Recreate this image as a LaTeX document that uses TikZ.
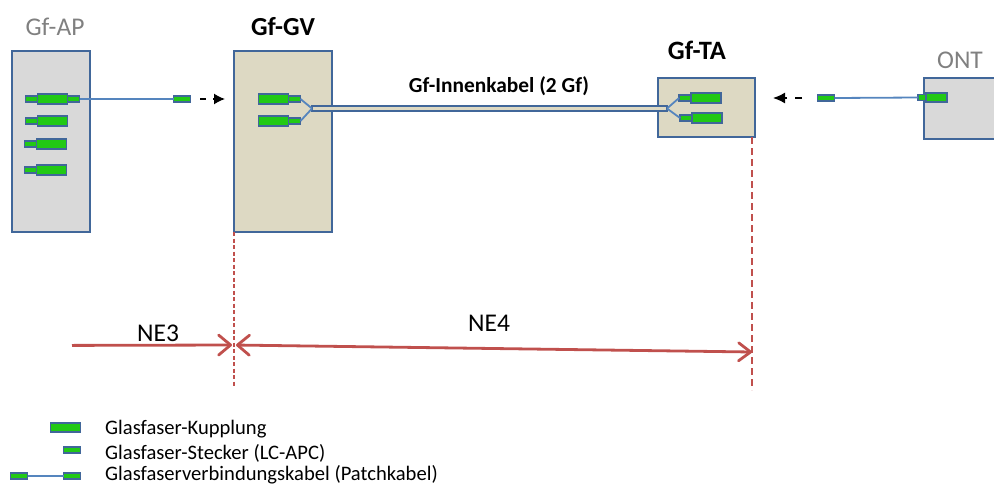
\documentclass[tikz,border=0pt]{standalone}
\usepackage{fontspec}
\setmainfont{Carlito}
\usepackage{xcolor}
\usetikzlibrary{arrows.meta,positioning}
\definecolor{boxblue}{HTML}{41679A}
\definecolor{fiberblue}{HTML}{5585BE}
\definecolor{boxgrey}{HTML}{D9D9D9}
\definecolor{boxbeige}{HTML}{DDD9C3}
\definecolor{fibergreen}{HTML}{22C915}
\definecolor{nered}{HTML}{C0504D}
\tikzset{
  device/.style={draw=boxblue, line width=1.8pt, inner sep=0pt, outer sep=0pt, anchor=north west},
  kupplung/.style={draw=boxblue, fill=fibergreen, line width=1.7pt, inner sep=0pt, outer sep=0pt,
    minimum width=30pt, minimum height=9.5pt},
  stecker/.style={draw=boxblue, fill=fibergreen, line width=1.3pt, inner sep=0pt, outer sep=0pt,
    minimum width=17pt, minimum height=6pt},
  faser/.style={fiberblue, line width=1.8pt},
  nepfeil/.style={nered, line width=2.8pt},
  greylabel/.style={text=black!50, font=\fontsize{25.5}{28}\selectfont},
  boldlabel/.style={font=\fontsize{26}{28}\selectfont\bfseries},
  legendtext/.style={anchor=west, inner sep=0pt, font=\fontsize{20.6}{23}\selectfont}
}
\begin{document}
\begin{tikzpicture}[x=1pt, y=-1pt]
  \useasboundingbox (0,0) rectangle (994,485);
  \clip (0,0) rectangle (994,485);

  % Devices
  \node[device, fill=boxgrey, minimum width=78pt, minimum height=181pt] (ap) at (12,51) {};
  \node[device, fill=boxbeige, minimum width=98pt, minimum height=181pt] (gv) at (234,51) {};
  \node[device, fill=boxbeige, minimum width=97pt, minimum height=59pt] (ta) at (658,78) {};
  \node[device, fill=boxgrey, minimum width=90pt, minimum height=61pt] (ont) at (924,78) {};

  % Labels
  \node[greylabel] (aplabel) at (55,27) {Gf-AP};
  \node[boldlabel] (gvlabel) at (283,27) {Gf-GV};
  \node[boldlabel, font=\fontsize{26.5}{28}\selectfont\bfseries] (talabel) at (697,50) {Gf-TA};
  \node[greylabel] (ontlabel) at (960,60) {ONT};
  \node[font=\fontsize{21.4}{24}\selectfont\bfseries] (kabellabel) at (499,86) {Gf-Innenkabel (2 Gf)};

  % Gf-AP couplings
  \foreach \name/\px/\y in {a/52.5/99, b/52.5/121, c/51.5/144, d/51.5/170} {
    \node[kupplung] (ap\name) at (\px,\y) {};
    \node[stecker, minimum width=12pt, left=0pt of ap\name] (ap\name s) {};
  }
  \node[stecker, minimum width=12pt, right=0pt of apa] (apaplug) {};
  \node[stecker] (patchap) at (182,99) {};
  \draw[faser] (apaplug.east) -- (patchap.west);

  % Gf-GV couplings
  \foreach \name/\y in {a/99, b/121} {
    \node[kupplung] (gv\name) at (273.5,\y) {};
    \node[stecker, minimum width=12pt, right=0pt of gv\name] (gv\name s) {};
  }

  % Gf-TA couplings
  \foreach \name/\px/\y in {a/706/98, b/707/118} {
    \node[kupplung] (ta\name) at (\px,\y) {};
    \node[stecker, minimum width=12pt, left=0pt of ta\name] (ta\name s) {};
  }

  % Innenkabel
  \node[draw=boxblue, fill=boxbeige, line width=1.7pt, inner sep=0pt, outer sep=0pt,
    minimum width=355pt, minimum height=5pt] (kabel) at (489.5,108.5) {};
  \draw[faser] (gvas.east) -- (kabel.west);
  \draw[faser] (gvbs.east) -- (kabel.west);
  \draw[faser] (taas.west) -- (kabel.east);
  \draw[faser] (tabs.west) -- (kabel.east);

  % ONT
  \node[stecker, minimum width=8pt] (ontplug) at (922,97.5) {};
  \node[kupplung, minimum width=21pt] (ontk) at (936.5,97.5) {};
  \node[stecker] (patchont) at (826,98) {};
  \draw[faser] (patchont.east) -- (ontplug.west);

  % Plug-in arrows
  \coordinate (apstart) at (200,99);
  \coordinate (apend) at (225,99);
  \coordinate (ontstart) at (802,98);
  \coordinate (ontend) at (773,98);
  \draw[line width=1.5pt, dash pattern=on 6pt off 7pt, -{Latex[length=11pt,width=11pt]}] (apstart) -- (apend);
  \draw[line width=1.5pt, dash pattern=on 7pt off 8pt, -{Latex[length=12pt,width=11pt]}] (ontstart) -- (ontend);

  % NE boundaries
  \coordinate (gvgrenze) at (234,345);
  \coordinate (gvunten) at (234,387);
  \coordinate (tagrenze) at (752,352);
  \coordinate (taoben) at (752,137);
  \coordinate (taunten) at (752,390);
  \coordinate (nestart) at (72,345.4);
  \draw[nered, line width=1.2pt, dash pattern=on 4pt off 2.5pt] (gv.south west) -- (gvunten);
  \draw[nered, line width=2.2pt, dash pattern=on 7pt off 4pt] (taoben) -- (taunten);
  \draw[nepfeil, shorten >=2pt, -{Straight Barb[length=12pt,width=20pt,round]}] (nestart) -- (gvgrenze);
  \draw[nepfeil, shorten <=2pt, {Straight Barb[length=12pt,width=20pt,round]}-{Straight Barb[length=12pt,width=18pt,round]}] (gvgrenze) -- (tagrenze);
  \node[font=\fontsize{25.5}{28}\selectfont] (ne3) at (158,333) {NE3};
  \node[font=\fontsize{25.5}{28}\selectfont] (ne4) at (489,323) {NE4};

  % Legend
  \node[kupplung] (legk) at (65.5,427.5) {};
  \node[stecker] (legs) at (72,450) {};
  \node[stecker] (legca) at (19,476) {};
  \node[stecker] (legcb) at (72,476) {};
  \draw[faser] (legca.east) -- (legcb.west);
  \node[legendtext] (legtk) at (105,429) {Glasfaser-Kupplung};
  \node[legendtext] (legts) at (105,453) {Glasfaser-Stecker (LC-APC)};
  \node[legendtext] (legtc) at (105,475) {Glasfaserverbindungskabel (Patchkabel)};
\end{tikzpicture}
\end{document}
